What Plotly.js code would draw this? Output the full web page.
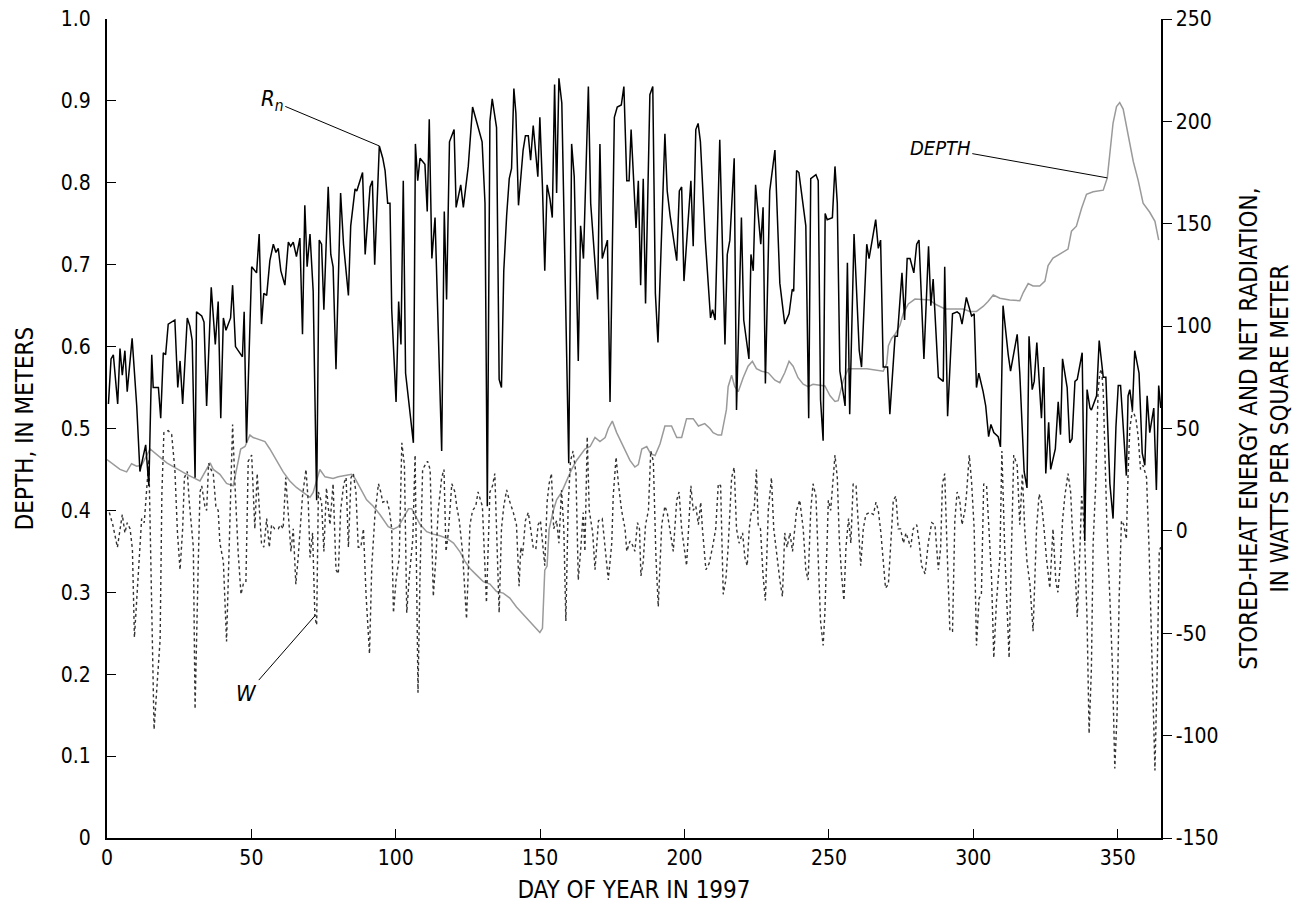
<!DOCTYPE html>
<html>
<head>
<meta charset="utf-8">
<script src="https://cdn.plot.ly/plotly-3.0.1.min.js"></script>
<style>
  html, body { margin: 0; padding: 0; background: #fff; }
  #chart { width: 1306px; height: 911px; }
</style>
</head>
<body>
<div id="chart"></div>
<script>
// ---- Net radiation, Rn (W/m2, right axis) ----
const rnDay = [0.5,1.4,2.2,3.7,4.5,5.3,6.2,7.0,8.7,10.3,11.4,13.4,14.5,15.5,16.0,17.8,18.6,19.5,20.3,21.2,23.5,24.5,25.3,26.2,27.8,28.7,29.5,30.5,31.0,32.8,33.6,34.5,36.1,37.5,38.5,39.4,40.3,
41.2,42.8,43.5,44.5,45.5,46.9,47.5,48.3,50.1,51.8,52.7,53.5,54.3,55.3,56.4,57.6,58.5,59.3,60.2,61.6,62.8,63.6,64.5,65.6,66.8,67.7,68.5,69.3,70.3,71.4,72.6,73.5,74.3,75.1,76.6,77.5,78.3,79.3,80.9,
81.9,83.6,84.4,85.9,86.5,88.5,89.4,91.1,91.9,92.7,94.3,95.5,96.3,97.2,98.0,98.6,100.1,101.0,101.8,102.6,103.4,106.1,106.8,107.6,108.4,110.1,110.9,111.6,112.5,113.6,115.9,116.8,117.6,118.6,120.2,120.9,122.5,
123.4,125.1,126.6,129.9,130.9,131.7,132.6,133.4,134.9,135.8,136.6,137.4,138.4,139.3,140.1,140.9,141.6,142.5,144.1,144.9,145.9,146.7,147.6,148.5,149.2,149.9,150.8,151.6,152.4,153.4,154.2,155.0,155.7,156.5,157.5,159.9,160.9,161.8,163.2,164.0,
165.0,166.7,167.5,169.9,170.7,171.5,173.3,174.2,175.7,176.7,178.1,179.0,180.0,180.8,181.5,183.2,184.0,184.8,185.7,186.5,188.0,189.0,189.9,190.8,193.2,194.0,195.0,197.3,198.2,199.0,199.8,202.2,203.0,203.9,204.7,205.5,207.2,
209.0,209.7,210.6,212.2,214.0,214.8,215.7,217.2,218.0,219.7,220.5,222.3,223.0,223.8,224.6,226.4,227.2,228.0,229.5,231.3,233.0,234.7,236.2,237.3,237.8,238.8,239.6,242.0,243.0,243.7,245.5,246.3,247.1,248.0,
248.7,249.4,251.2,252.1,252.9,253.8,255.6,256.4,257.2,258.7,260.5,261.3,263.1,263.9,266.2,267.1,267.9,268.8,270.3,271.1,272.9,273.7,275.3,276.2,277.1,278.1,279.4,280.4,281.2,282.9,284.5,285.3,286.1,287.9,289.6,
290.1,291.1,292.8,294.4,295.3,296.1,297.6,299.4,300.3,301.1,301.9,303.4,304.3,305.3,306.1,307.1,308.6,309.4,310.3,312.1,312.9,315.2,316.1,317.6,318.6,319.3,320.4,321.1,322.0,323.6,324.4,325.1,326.1,326.8,
328.4,329.4,330.2,330.9,332.5,333.4,334.2,335.2,336.0,337.7,338.6,339.4,340.4,340.9,342.7,343.6,344.4,345.0,345.9,347.3,348.4,349.4,350.2,351.0,353.0,353.6,354.2,355.1,355.9,357.4,358.5,359.4,360.2,361.1,362.5,363.4,364.2,364.9];
const rnVal = [62,84,86,62,89,76,88,68,94,61,29,42,22,86,70,70,55,87,86,101,103,70,83,62,104,100,93,26,107,105,102,61,119,91,112,55,104,
98,104,120,90,88,85,107,43,129,126,145,101,116,115,132,140,136,138,127,120,141,139,141,134,143,96,159,129,145,117,15,142,140,108,168,135,129,79,165,
140,115,149,167,166,175,135,168,171,130,188,182,176,160,160,108,63,112,91,171,77,43,189,171,182,179,156,201,133,153,39,156,113,190,196,158,169,
158,178,207,190,160,12,200,211,197,74,70,127,154,172,177,216,204,159,186,193,193,181,198,185,173,202,168,127,169,162,153,218,165,221,209,33,189,173,83,149,
133,217,160,113,189,133,142,63,202,207,208,217,171,171,196,148,171,120,172,111,213,217,116,92,194,166,154,132,166,168,122,171,139,196,199,190,142,
104,108,103,191,91,135,142,182,59,153,103,84,135,127,169,140,158,72,166,186,121,101,106,118,117,176,175,149,55,172,174,171,64,44,
155,152,153,178,160,78,61,131,57,145,88,80,140,133,152,138,142,80,80,57,95,95,126,103,133,133,126,140,142,84,139,110,123,75,73,
129,56,106,107,106,101,114,105,106,70,77,68,61,46,52,48,46,41,110,86,78,96,77,29,21,95,69,73,92,55,80,28,53,30,
40,63,47,84,70,43,45,73,74,87,-5,69,60,59,66,93,84,75,75,23,6,51,71,71,27,66,69,59,88,77,38,32,66,48,60,20,71,60];

// ---- Stored-heat energy, W (W/m2, right axis) ----
const wDay = [0.8,2.0,3.6,5.3,6.2,7.0,8.0,8.8,9.5,10.5,11.4,12.0,12.9,14.5,16.3,18.4,19.0,19.7,21.2,22.4,23.5,24.4,25.3,26.2,26.8,27.8,28.5,29.9,30.5,31.6,32.2,32.8,33.9,34.5,35.2,36.0,36.8,37.7,38.5,39.1,40.3,41.4,
43.5,44.3,45.4,46.4,47.2,48.1,48.9,50.1,51.2,52.0,52.9,53.5,54.3,55.3,56.2,57.0,58.1,59.3,60.1,61.0,61.9,63.0,63.7,64.5,65.4,66.2,66.8,67.7,68.9,69.7,70.3,71.2,72.0,72.6,73.2,74.3,75.1,76.0,77.2,78.3,79.3,80.1,80.9,82.0,
82.8,83.6,84.5,85.3,86.2,87.0,87.9,88.8,89.7,90.9,91.7,92.8,94.0,94.8,95.5,96.9,97.8,98.6,99.2,100.1,101.2,102.1,103.0,103.8,104.7,105.9,106.7,107.7,108.4,109.3,110.1,111.0,111.9,113.0,113.9,114.7,115.9,116.7,117.4,118.2,119.4,120.5,121.1,122.0,123.1,
124.5,125.7,126.6,127.7,128.5,130.0,130.9,131.4,132.6,133.5,134.3,134.9,135.8,136.6,137.4,138.4,139.3,140.7,141.8,142.7,143.3,143.9,144.9,145.9,146.8,147.6,148.5,149.3,150.1,150.8,151.6,152.4,153.1,153.9,154.7,155.7,156.5,157.4,158.2,158.9,159.7,160.5,161.4,162.4,163.2,164.0,164.9,
165.5,166.3,167.0,168.2,169.0,170.2,171.5,172.5,173.6,174.8,175.3,176.3,177.1,178.2,179.4,180.0,181.1,182.0,182.8,183.7,184.4,184.9,185.7,186.5,187.5,188.3,189.2,190.1,190.9,192.1,193.2,194.0,195.0,196.1,197.3,198.1,199.0,199.8,200.7,202.2,203.0,203.9,204.8,205.6,
206.2,207.4,208.5,209.7,210.8,211.7,212.5,213.4,214.3,215.1,216.3,217.2,218.0,218.9,220.1,220.9,221.7,222.4,223.2,224.1,224.9,225.5,226.3,227.2,228.0,229.0,230.1,230.9,231.8,233.0,233.9,234.7,235.5,236.5,237.4,238.8,239.9,241.1,242.0,242.8,243.7,244.5,245.5,246.3,247.1,248.0,
248.6,249.4,249.8,250.6,251.3,252.1,252.9,253.6,254.4,255.2,255.9,256.8,257.6,258.4,259.4,260.2,261.0,261.9,262.8,264.0,265.4,266.3,267.1,268.0,268.8,269.6,270.6,271.4,272.3,273.2,274.0,274.8,275.8,276.7,277.5,278.3,279.2,280.4,281.3,282.1,283.3,284.4,285.6,286.7,287.9,288.7,
289.3,290.1,290.9,291.9,292.8,293.6,294.4,295.3,296.1,297.1,297.6,298.6,299.4,300.3,301.1,302.0,302.8,303.6,304.6,305.5,306.3,307.1,308.0,309.2,309.9,310.9,312.4,313.2,314.0,315.2,316.1,317.0,317.8,318.6,319.6,320.7,321.9,322.8,323.6,324.5,325.3,326.5,
327.6,328.6,329.3,330.2,330.9,331.7,332.8,333.7,334.3,335.2,336.0,336.9,337.5,338.0,338.6,339.4,340.1,340.9,341.5,342.4,343.2,343.8,344.4,345.0,345.5,346.4,347.3,348.2,349.0,349.8,350.5,351.3,352.1,353.0,353.6,354.2,355.1,356.3,357.1,357.9,358.8,360.0,360.9,361.5,362.3,362.9,363.7,364.4,364.9];
const wVal = [9,3,-8,8,-1,4,1,-9,-52,-26,-8,6,4,35,-97,-53,18,48,49,47,30,-1,-19,1,26,29,14,-8,-87,-16,19,22,12,10,33,30,28,12,10,-6,-15,-54,
52,23,-10,-31,-26,-25,34,37,1,28,8,-6,-8,6,-8,3,1,1,3,1,26,5,-10,1,-26,-13,1,17,30,14,-13,-1,-42,-46,19,14,-10,21,3,23,-19,-21,10,23,
26,-8,26,28,19,-8,-8,1,-31,-60,-17,8,23,19,14,15,10,1,-40,-24,-13,43,32,-40,-22,-4,37,-79,-22,30,32,34,30,-32,-13,10,26,30,-10,-1,23,19,12,5,-10,
-43,3,10,12,19,12,-15,-35,19,22,28,-4,-40,1,12,20,15,9,3,-27,-8,-12,5,9,1,-8,-9,3,5,-6,-17,14,23,28,1,5,-6,20,1,-44,12,34,39,28,-24,-10,9,
-10,46,10,-1,-19,5,6,-8,-24,-6,17,36,23,10,1,-10,-5,-7,-10,4,1,-22,-15,3,10,39,34,-13,-37,3,12,9,-1,-10,15,19,1,-8,-17,22,10,12,3,14,
1,-19,-16,-8,1,23,22,-31,-24,-8,26,31,1,-6,-1,-13,-17,1,10,10,30,3,1,-22,-34,10,26,1,-10,-24,-32,-1,-8,-1,-10,10,15,1,-19,-24,10,23,17,-10,-44,-56,
-40,-4,15,10,23,37,26,-4,-22,-34,-8,6,-6,23,22,-1,-17,1,8,9,8,14,10,-1,-13,-28,-26,-4,15,17,1,1,-6,-1,-4,-8,1,3,-6,-17,-21,-6,4,3,-19,-8,
23,28,-8,-49,-49,5,19,15,3,10,17,37,24,1,-56,-33,-31,23,22,1,-22,-62,-35,-13,39,-10,-62,-10,37,32,3,28,1,-15,-26,-49,1,18,14,1,-13,-28,
1,-25,-30,-15,5,17,28,19,1,-17,-42,-10,17,10,-6,-44,-99,-67,-6,23,68,77,79,68,37,-4,-33,-67,-116,-89,-33,5,3,-4,28,50,59,55,46,30,32,26,-10,-44,-89,-117,-67,-10,-8];

// ---- Water depth (m, left axis) ----
const depthDay = [0,4.5,6.8,8.5,10.3,12,14.9,20.7,27.6,32.2,35.7,36.8,39.1,41.4,43.7,46.3,47.8,49.5,50.6,53,54.7,56.4,58.7,61,63.3,65.6,69.1,70.3,71.4,73.7,75.5,78.3,80.1,83,84.7,85.9,87.6,89.9,92.2,94.5,97.4,99.2,100.9,102.6,104.4,105.5,106.7,108.4,110.7,113,115.3,117.6,120,122.3,123.9,125.7,128,130.3,132.6,134.9,137.2,139.5,141.8,144.1,146.4,148.7,149.9,150.8,151.1,151.6,152.4,153.1,154.5,155.7,157.4,159.1,160.9,162.6,164.9,165.5,167.3,169,170.7,172.5,173.6,175,176.5,178.8,181.1,182.8,184,185.2,186.9,188.3,189.8,191.5,193.2,195.5,197.3,199,200.7,203,204.8,207,208.8,209.9,211.6,212.8,214,214.5,215.1,216.3,217.4,218.6,220.3,222,223.5,224.9,226.7,229,231.3,233,234.7,236.2,237.6,239.3,241.1,242.8,244.5,248.6,250.4,252.1,253.2,254.1,255,256.7,263.1,268.8,270,270.6,271.7,272.9,274.6,275.8,277.5,279.8,285,286.7,290.2,293.6,296.5,298.8,301.1,303.4,305.1,306.9,309.2,312.6,316.1,317.3,319,320.7,323,324.8,325.9,327.6,330,332.8,334,335.7,337.5,339.2,341.5,345,346.4,347,347.6,348.4,349.6,350.7,351.9,353,354.2,355.4,357.1,358.8,361.1,362.9,364.2];
const depthVal = [0.462,0.450,0.447,0.457,0.454,0.455,0.475,0.458,0.444,0.436,0.458,0.450,0.444,0.433,0.430,0.475,0.478,0.492,0.489,0.486,0.484,0.475,0.461,0.447,0.436,0.428,0.419,0.416,0.422,0.450,0.441,0.439,0.441,0.443,0.444,0.439,0.428,0.413,0.405,0.395,0.380,0.377,0.380,0.391,0.402,0.402,0.394,0.383,0.374,0.371,0.369,0.366,0.360,0.349,0.338,0.329,0.321,0.313,0.310,0.301,0.299,0.293,0.282,0.273,0.265,0.256,0.251,0.256,0.282,0.327,0.332,0.377,0.399,0.413,0.422,0.436,0.450,0.461,0.472,0.475,0.478,0.489,0.484,0.489,0.500,0.509,0.495,0.478,0.461,0.453,0.456,0.475,0.478,0.469,0.467,0.481,0.503,0.503,0.489,0.489,0.512,0.512,0.503,0.506,0.500,0.495,0.492,0.492,0.512,0.523,0.551,0.565,0.551,0.545,0.562,0.576,0.582,0.573,0.570,0.568,0.559,0.556,0.568,0.582,0.576,0.562,0.554,0.551,0.554,0.552,0.540,0.533,0.534,0.545,0.559,0.573,0.573,0.570,0.579,0.601,0.610,0.615,0.626,0.641,0.652,0.658,0.657,0.652,0.646,0.646,0.646,0.643,0.643,0.649,0.655,0.663,0.659,0.657,0.656,0.666,0.677,0.674,0.674,0.680,0.699,0.708,0.713,0.719,0.741,0.747,0.769,0.786,0.789,0.791,0.806,0.826,0.848,0.873,0.893,0.898,0.890,0.870,0.848,0.826,0.803,0.775,0.764,0.753,0.730];

// ---- Axis ticks ----
const depthTicks = [0,0.1,0.2,0.3,0.4,0.5,0.6,0.7,0.8,0.9,1.0];
const depthTickText = ['0','0.1','0.2','0.3','0.4','0.5','0.6','0.7','0.8','0.9','1.0'];
const energyTicks = [-150,-100,-50,0,50,100,150,200,250];
const energyTickText = ['-150','-100','-50','0','50','100','150','200','250'];
const dayTicks = [0,50,100,150,200,250,300,350];

const FONT = '"Liberation Sans Narrow", "DejaVu Sans Condensed", "Arial Narrow", sans-serif';

const traces = [
  { x: depthDay, y: depthVal, yaxis: 'y', type: 'scatter', mode: 'lines',
    name: 'DEPTH', line: { color: '#9a9a9a', width: 1.5 } },
  { x: wDay, y: wVal, yaxis: 'y2', type: 'scatter', mode: 'lines',
    name: 'W', line: { color: '#333333', width: 1.4, dash: 'dot' } },
  { x: rnDay, y: rnVal, yaxis: 'y2', type: 'scatter', mode: 'lines',
    name: 'Rn', line: { color: '#000000', width: 1.5 } }
];

const layout = {
  width: 1306, height: 911,
  margin: { l: 107, r: 145, t: 19, b: 73 },
  paper_bgcolor: '#fff', plot_bgcolor: '#fff',
  showlegend: false,
  font: { family: FONT, color: '#000', size: 21 },
  xaxis: {
    range: [0, 365], tickvals: dayTicks, ticks: 'inside', ticklen: 9, tickwidth: 1,
    tickcolor: '#000', showline: true, linecolor: '#000', linewidth: 1.5,
    showgrid: false, zeroline: false,
    tickfont: { family: FONT, size: 21, color: '#000' },
    title: { text: 'DAY OF YEAR IN 1997', font: { family: FONT, size: 24, color: '#000' }, standoff: 12 }
  },
  yaxis: {
    range: [0, 1], tickvals: depthTicks, ticktext: depthTickText, ticks: 'inside', ticklen: 9, tickwidth: 1,
    tickcolor: '#000', showline: true, linecolor: '#000', linewidth: 2,
    showgrid: false, zeroline: false, ticklabelstandoff: 10,
    tickfont: { family: FONT, size: 21, color: '#000' },
    title: { text: 'DEPTH, IN METERS', font: { family: FONT, size: 24, color: '#000' }, standoff: 20 }
  },
  yaxis2: {
    range: [-150, 250], tickvals: energyTicks, ticktext: energyTickText, overlaying: 'y', side: 'right',
    ticks: 'outside', ticklen: 9, tickwidth: 1, tickcolor: '#000',
    showline: true, linecolor: '#000', linewidth: 1.5,
    showgrid: false, zeroline: false,
    tickfont: { family: FONT, size: 21, color: '#000' },
    title: { text: 'STORED-HEAT ENERGY AND NET RADIATION,<br>IN WATTS PER SQUARE METER',
             font: { family: FONT, size: 24, color: '#000' }, standoff: 22 }
  },
  annotations: [
    { x: 94.3, y: 188, xref: 'x', yref: 'y2', text: '<i>R<sub>n</sub></i>', showarrow: true,
      arrowhead: 0, arrowwidth: 1, arrowcolor: '#000', ax: -107, ay: -45,
      font: { family: FONT, size: 22, color: '#000' } },
    { x: 346.4, y: 0.806, xref: 'x', yref: 'y', text: '<i>DEPTH</i>', showarrow: true,
      arrowhead: 0, arrowwidth: 1, arrowcolor: '#000', ax: -167, ay: -30,
      font: { family: FONT, size: 20, color: '#000' } },
    { x: 72.3, y: -41, xref: 'x', yref: 'y2', text: '<i>W</i>', showarrow: true,
      arrowhead: 0, arrowwidth: 1, arrowcolor: '#000', ax: -69, ay: 79,
      font: { family: FONT, size: 22, color: '#000' } }
  ]
};

Plotly.newPlot('chart', traces, layout, { displayModeBar: false, staticPlot: true });
</script>
</body>
</html>
